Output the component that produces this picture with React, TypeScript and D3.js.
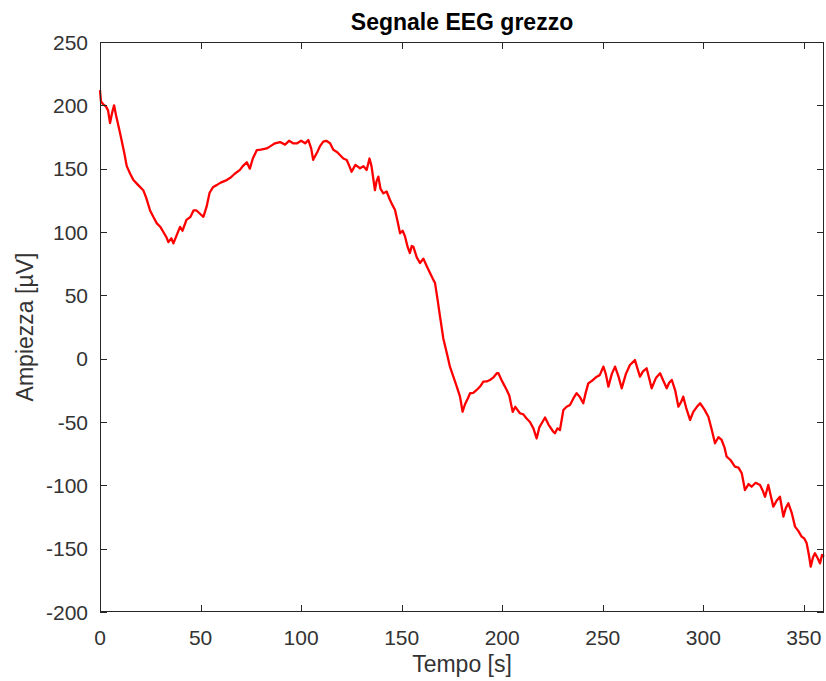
import React, { useEffect, useRef } from 'react';
import * as d3 from 'd3';

// Segnale EEG grezzo: values
const tempo = [
  0, 0.5, 1.5, 3, 4, 5, 6, 7, 8, 10, 12, 13.3, 15, 16.6, 19, 21.5, 23, 24.9, 26.5, 28.2,
  30, 31.5, 33, 34, 35.5, 36.5, 38, 39.8, 41, 43, 45, 46.5, 48, 50, 51.4, 53, 54.5, 56.3, 58, 60,
  63, 65, 67, 69.6, 71, 73, 74.5, 76, 78, 80, 82.9, 85, 87, 89.5, 92, 94, 96, 98, 100, 102,
  103.6, 105, 106, 108, 109.5, 111, 112.5, 114.4, 116, 118, 119.3, 121, 122.7, 124, 125.1, 127, 129.3, 131, 132.6, 134,
  135, 136.7, 137.5, 138.4, 139.5, 140.9, 142.5, 144.2, 145.5, 146.7, 148, 149.2, 150.5, 151.7, 153, 154.1, 155, 155.8, 157.5, 159.1,
  160.8, 162.5, 164.1, 165.5, 166.6, 168, 169.1, 170.7, 172.5, 174, 175.7, 177.4, 179, 180.3, 181.5, 183, 184, 185.6, 187.3, 189,
  190.6, 192.3, 193.9, 195.5, 197.3, 198.1, 199.7, 200.5, 202, 203.5, 205.2, 206.5, 208.8, 210.5, 212, 213.8, 215.5, 217.1, 218.5, 220,
  221.3, 223, 225.4, 226.2, 227.5, 228.7, 230.4, 232, 233.7, 235.5, 237, 238.5, 240.3, 241.5, 242.8, 245, 247, 248.5, 250.3, 251.5,
  252.8, 254.5, 256.1, 257.8, 259.4, 261.5, 263.5, 266, 267.3, 268.5, 270, 271.8, 273, 274.3, 276.5, 278.5, 280, 281.8, 283, 284.3,
  286, 287.6, 289, 290, 291.5, 293.4, 295, 296.8, 298.4, 300.5, 302.5, 304, 305.8, 307.5, 309.1, 310.5, 311.6, 313.5, 315.7, 317.5,
  319.1, 320.7, 322.5, 324, 326, 328.2, 329.5, 330.7, 332.3, 333.5, 334.8, 336.5, 338.1, 339.8, 341, 342.3, 344, 345.6, 347.2, 348.9,
  350.2, 351.4, 352.5, 353.4, 354.5, 355.5, 357, 358, 359, 360,
];

const ampiezza = [
  212, 203, 201, 199, 196, 186, 194, 200, 192, 178, 163, 152, 146, 141, 137, 133, 127, 117, 112, 107,
  104, 100, 96, 92, 95, 91, 97, 104, 101, 109.5, 112, 117, 117, 114, 112, 120, 131, 135.6, 137, 139,
  141, 143, 146, 149, 152, 155, 150, 158, 164.7, 165, 166, 168, 170, 171, 169, 172, 170, 170, 172, 170,
  172.6, 166, 157, 163, 168, 171.3, 172, 170, 165, 163, 160.8, 158, 156.8, 152, 147.6, 153, 150.3, 152, 149, 158,
  152, 133, 140, 143.7, 134, 130.5, 132, 125.3, 121, 117.4, 108, 99, 101, 96.3, 88, 83.4, 89, 88.4, 80, 75.5,
  79, 73, 67.6, 63, 59.7, 45, 33, 16, 4, -6.3, -14.2, -22, -30, -41.9, -36, -31, -27.3, -27, -24.7, -22,
  -18.2, -18, -16.8, -15, -11.5, -11.5, -17, -19.5, -24, -29, -42, -38, -43.1, -44, -47, -50, -55, -63, -54, -50,
  -46.5, -52, -57.7, -58.9, -55, -56.3, -40.5, -38, -36.6, -31, -27.3, -30, -35.2, -27, -19.5, -17, -14.2, -13, -6.3, -12,
  -22.1, -12, -6.3, -14, -23.4, -12, -5, -1.1, -8, -14.2, -10, -7.6, -15, -23.4, -15, -11.5, -17, -23.4, -19, -16.8,
  -25, -37.9, -34, -30, -39, -48.4, -42, -38, -35.2, -40, -45.8, -55, -66.8, -62, -64.2, -70, -77.4, -80, -85.3, -86,
  -90.5, -103.7, -99, -101.1, -98, -99.7, -104, -109, -99.7, -108, -116.8, -112, -109, -124.7, -118, -114.2, -122, -132.6, -136, -140.5,
  -142, -145.8, -155, -164.2, -157, -153.6, -158, -161.6, -155, -156.3,
];

const xTicks = [0, 50, 100, 150, 200, 250, 300, 350];
const yTicks = [-200, -150, -100, -50, 0, 50, 100, 150, 200, 250];

const W = 826;
const H = 681;
const m = { left: 100, right: 2, top: 42, bottom: 69 };
const ink = '#262626';
const font = '"Liberation Sans", Arial, Helvetica, sans-serif';

const EEGChart = () => {
  const ref = useRef<SVGSVGElement>(null);

  useEffect(() => {
    document.body.style.margin = '0';
    const svg = d3.select(ref.current);
    svg.selectAll('*').remove();

    const x = d3.scaleLinear().domain([0, 360]).range([m.left, W - m.right]);
    const y = d3.scaleLinear().domain([-200, 250]).range([H - m.bottom, m.top]);
    const [x0, x1] = x.range();
    const [y0, y1] = y.range();

    svg.append('rect').attr('width', W).attr('height', H).attr('fill', '#fff');

    // signal
    const pts = tempo.map((t, i) => [t, ampiezza[i]] as [number, number]);
    const line = d3
      .line<[number, number]>()
      .x((d) => x(d[0]))
      .y((d) => y(d[1]));
    svg
      .append('path')
      .datum(pts)
      .attr('d', line)
      .attr('fill', 'none')
      .attr('stroke', '#ff0000')
      .attr('stroke-width', 2.3)
      .attr('stroke-linejoin', 'round');

    // box + ticks on all sides, pointing inward
    const axes = svg.append('g').attr('stroke', ink).attr('stroke-width', 1).attr('fill', 'none');
    axes
      .append('rect')
      .attr('x', x0 + 0.5)
      .attr('y', y1 + 0.5)
      .attr('width', x1 - x0 - 1)
      .attr('height', y0 - y1 - 1);
    const tl = 7;
    xTicks.forEach((v) => {
      const px = Math.round(x(v)) + 0.5;
      axes.append('line').attr('x1', px).attr('x2', px).attr('y1', y0).attr('y2', y0 - tl);
      axes.append('line').attr('x1', px).attr('x2', px).attr('y1', y1).attr('y2', y1 + tl);
    });
    yTicks.forEach((v) => {
      const py = Math.round(y(v)) + 0.5;
      axes.append('line').attr('x1', x0).attr('x2', x0 + tl).attr('y1', py).attr('y2', py);
      axes.append('line').attr('x1', x1).attr('x2', x1 - tl).attr('y1', py).attr('y2', py);
    });

    // tick labels
    svg
      .append('g')
      .selectAll('text')
      .data(xTicks)
      .enter()
      .append('text')
      .attr('x', (d) => x(d))
      .attr('y', y0 + 33)
      .attr('text-anchor', 'middle')
      .style('font', `21px ${font}`)
      .attr('fill', '#333')
      .text((d) => d);

    svg
      .append('g')
      .selectAll('text')
      .data(yTicks)
      .enter()
      .append('text')
      .attr('x', x0 - 12)
      .attr('y', (d) => y(d) + 7.5)
      .attr('text-anchor', 'end')
      .style('font', `21px ${font}`)
      .attr('fill', '#333')
      .text((d) => d);

    // title and axis labels
    svg
      .append('text')
      .attr('x', (x0 + x1) / 2)
      .attr('y', 30)
      .attr('text-anchor', 'middle')
      .style('font', `bold 23px ${font}`)
      .attr('fill', '#000')
      .text('Segnale EEG grezzo');

    svg
      .append('text')
      .attr('x', (x0 + x1) / 2)
      .attr('y', 672)
      .attr('text-anchor', 'middle')
      .style('font', `23px ${font}`)
      .attr('fill', '#333')
      .text('Tempo [s]');

    svg
      .append('text')
      .attr('transform', `translate(33,${(y0 + y1) / 2}) rotate(-90)`)
      .attr('text-anchor', 'middle')
      .style('font', `23px ${font}`)
      .attr('fill', '#333')
      .text('Ampiezza [µV]');
  }, []);

  return <svg ref={ref} width={W} height={H} style={{ display: 'block' }} />;
};

export default function App() {
  return <EEGChart />;
}
